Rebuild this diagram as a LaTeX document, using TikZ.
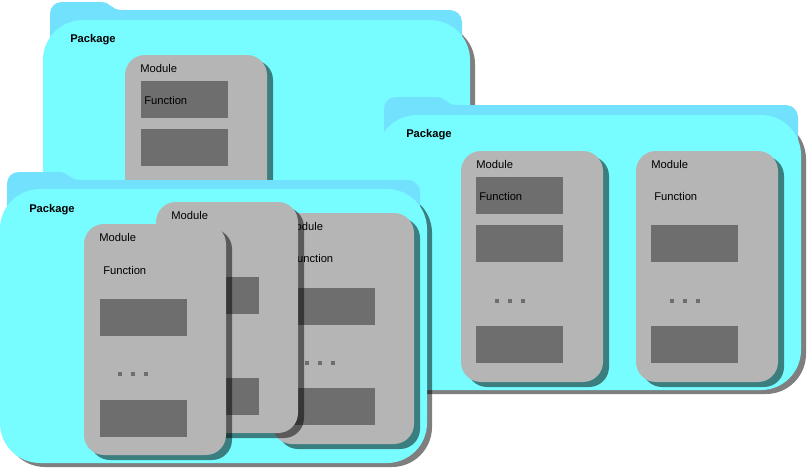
\documentclass[tikz,border=0pt]{standalone}
\usepackage{fontspec}
\setmainfont{Liberation Sans}

\definecolor{pkgfront}{RGB}{119,253,255}
\definecolor{pkgtab}{RGB}{114,225,253}
\definecolor{modgray}{RGB}{181,181,181}
\definecolor{fngray}{RGB}{110,110,110}

\tikzset{
  dropshadow/.style={fill=black, fill opacity=0.5},
  lbl/.style={inner sep=0pt, anchor=base west, text=black,
              font=\fontsize{8.4}{10}\selectfont},
  pkglbl/.style={lbl, font=\fontsize{8.4}{10}\selectfont\bfseries},
}

% folder: #1 tab left, #2 tab top, #3 tab end, #4 band top, #5 band right,
%         #6 body left, #7 body top, #8 body right, #9 body bottom
\newcommand\pkgfolder[9]{%
  \fill[dropshadow, rounded corners=30] (#6+5,#7+4) rectangle (#8+5,#9+4);
  \fill[pkgtab] (#1,#7+40) -- (#1,#2+12)
     .. controls (#1,#2+5) and (#1+5,#2) .. (#1+12,#2)
     -- (#3-22,#2) .. controls (#3-10,#2) and (#3-12,#4) .. (#3,#4)
     -- (#5-12,#4) .. controls (#5-5.4,#4) and (#5,#4+5.4) .. (#5,#4+12)
     -- (#5,#7+40) -- cycle;
  \fill[pkgfront, rounded corners=30] (#6,#7) rectangle (#8,#9);
}
% module card shadow and card: #1 left, #2 top
\newcommand\modshadow[2]{%
  \fill[dropshadow, rounded corners=15] (#1+6,#2+5) rectangle ++(142,231);}
\newcommand\modcard[2]{%
  \fill[modgray, rounded corners=15] (#1,#2) rectangle ++(142,231);}
% function box: #1 left, #2 top
\newcommand\fnbox[2]{\fill[fngray] (#1,#2) rectangle ++(87,37);}
% three-dot ellipsis: centre of the first dot
\newcommand\dotrow[2]{%
  \foreach \k in {0,1,2}{\fill[fngray] (#1+13*\k-2,#2-2) rectangle ++(4,4);}}

\begin{document}
\begin{tikzpicture}[x=0.75pt, y=-0.75pt]
\useasboundingbox (0,0) rectangle (811,468);

% ---------- package 1 (top left) ----------
\pkgfolder{50}{2}{122}{10}{462}{43}{20}{470}{300}
\node[pkglbl] (p1) at (70,42) {Package};
\modshadow{125}{55}\modcard{125}{55}
\node[lbl] (p1m) at (140,72) {Module};
\fnbox{141}{81}
\node[lbl] (p1mf) at (144,104) {Function};
\fnbox{141}{129}

% ---------- package 2 (right) ----------
\pkgfolder{384}{97}{457}{105}{798}{377}{115}{801}{390}
\node[pkglbl] (p2) at (406,137) {Package};
% first module
\modshadow{461}{151}\modcard{461}{151}
\node[lbl] (p2m1) at (476,168) {Module};
\fnbox{476}{177}
\node[lbl] (p2m1f) at (479,200) {Function};
\fnbox{476}{225}
\dotrow{497}{301}
\fnbox{476}{326}
% second module
\modshadow{636}{151}\modcard{636}{151}
\node[lbl] (p2m2) at (651,168) {Module};
\node[lbl] (p2m2f) at (654,200) {Function};
\fnbox{651}{225}
\dotrow{672}{301}
\fnbox{651}{326}

% ---------- package 3 (bottom left) ----------
\pkgfolder{7}{172}{80}{180}{420}{0}{189}{427}{463}
\node[pkglbl] (p3) at (29,212) {Package};
% back module
\modshadow{272}{213}\modcard{272}{213}
\fnbox{288}{288}
\dotrow{307}{363}
\fnbox{288}{388}
% middle module
\modshadow{156}{202}
\node[lbl] (p3m3) at (286,230) {Module};
\node[lbl] (p3m3f) at (290,262) {Function};
\modcard{156}{202}
\node[lbl] (p3m2) at (171,219) {Module};
\fnbox{172}{277}
\fnbox{172}{378}
% front module
\modshadow{84}{224}\modcard{84}{224}
\node[lbl] (p3m1) at (99,241) {Module};
\node[lbl] (p3m1f) at (103,274) {Function};
\fnbox{100}{299}
\dotrow{120}{374}
\fnbox{100}{400}
\end{tikzpicture}
\end{document}
